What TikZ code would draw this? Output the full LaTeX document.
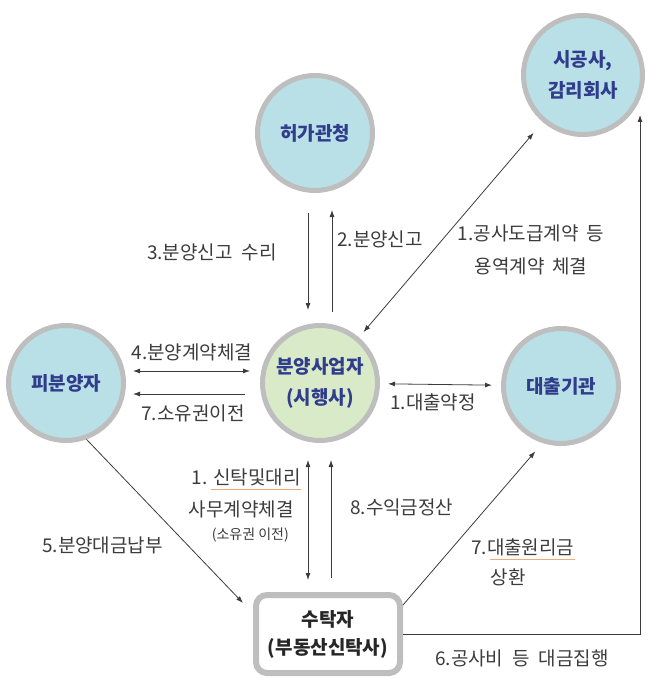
\documentclass[tikz,border=0pt]{standalone}
\usepackage{fontspec}
\setmainfont{Noto Sans CJK KR}
\usepackage{tikz}
\usetikzlibrary{arrows.meta,positioning}

\definecolor{partyblue}{RGB}{185,224,230}
\definecolor{partygreen}{RGB}{216,234,200}
\definecolor{rimgray}{RGB}{190,190,190}
\definecolor{navytext}{RGB}{48,60,140}
\definecolor{labelgray}{RGB}{60,60,60}
\definecolor{spellmark}{RGB}{240,170,120}

\begin{document}
\begin{tikzpicture}[x=1pt,y=-1pt,>={Latex[length=7pt,width=5pt]},
  party/.style={circle,draw=rimgray,line width=5pt,fill=partyblue,minimum size=115pt,
    inner sep=0pt,align=center,text=navytext,font=\fontsize{19}{31}\selectfont\bfseries},
  trustee/.style={draw=rimgray,line width=6pt,fill=white,rounded corners=11pt,
    minimum width=144pt,minimum height=78pt,align=center,text=black!85,
    font=\fontsize{19}{28}\selectfont\bfseries},
  flow/.style={labelgray,line width=0.8pt},
  lbl/.style={text=labelgray,inner sep=0pt,align=center,
    font=\fontsize{19}{33}\selectfont},
  small/.style={text=labelgray,inner sep=0pt,font=\fontsize{14}{16}\selectfont}]
  \useasboundingbox (0,0) rectangle (668,682);

  % Parties
  \node[party] (heoga) at (315,133) {허가관청};
  \node[party,minimum size=119pt] (sigong) at (583,75) {시공사,\\감리회사};
  \node[party] (pibun) at (66,383) {피분양자};
  \node[party,fill=partygreen] (bunyang) at (320,383) {분양사업자\\(시행사)};
  \node[party] (daechul) at (561,386) {대출기관};
  \node[trustee] (sutak) at (328,634) {수탁자\\(부동산신탁사)};

  % Permit office
  \draw[flow,->,shorten <=20pt,shorten >=13pt] ([xshift=-7pt]heoga.south) -- ([xshift=-7pt]heoga.south |- bunyang.north);
  \draw[flow,->,shorten <=11pt,shorten >=17pt] ([xshift=17pt]heoga.south |- bunyang.north) -- ([xshift=17pt]heoga.south);
  \node[lbl,anchor=east] (accept) at (277,252) {3.분양신고\hspace{9pt}수리};
  \node[lbl,anchor=west] (report) at (337,239) {2.분양신고};

  % Contractor
  \draw[flow,<->,shorten <=7pt,shorten >=14pt] (bunyang) -- (sigong);
  \node[lbl] (contract) at (531,250) {1.공사도급계약\hspace{8pt}등\\용역계약\hspace{8pt}체결};

  % Buyers
  \draw[flow,<->,shorten <=7pt,shorten >=10pt] ([yshift=12pt]pibun.east) -- ([yshift=12pt]pibun.east -| bunyang.west);
  \draw[flow,->,shorten <=15pt,shorten >=7pt] ([yshift=-11pt]pibun.east -| bunyang.west) -- ([yshift=-11pt]pibun.east);
  \node[lbl] (sale) at (192,352) {4.분양계약체결};
  \node[lbl] (owner) at (193,413) {7.소유권이전};

  % Lender
  \draw[flow,<->,shorten <=8pt,shorten >=9pt] (bunyang) -- (daechul);
  \node[lbl,anchor=west] (loan) at (390,402) {1.대출약정};

  % Payment to trustee
  \draw[flow,->] (pibun.-70) -- ([shift={(-10pt,-11pt)}]sutak.north west);
  \node[lbl,anchor=west] (pay) at (42,545) {5.분양대금납부};

  % Trust contract and settlement
  \draw[flow,<->,shorten <=17pt,shorten >=12pt] ([xshift=-12pt]bunyang.south) -- ([xshift=-12pt]bunyang.south |- sutak.north);
  \draw[flow,->,shorten <=14pt,shorten >=17pt] ([xshift=11pt]bunyang.south |- sutak.north) -- ([xshift=11pt]bunyang.south);
  \node[lbl,anchor=east] (trust) at (301,477) {1. 신탁및대리};
  \node[lbl,anchor=east] (agency) at (294,509) {사무계약체결};
  \node[small,anchor=east] (transfer) at (289,535) {(소유권 이전)};
  \node[lbl,anchor=west] (settle) at (350,507) {8.수익금정산};

  % Loan repayment
  \draw[flow,->,shorten >=11pt] ([yshift=-13pt]sutak.north east) -- (daechul.-108);
  \node[lbl,anchor=west] (repay) at (471,547) {7.대출원리금};
  \node[lbl] (repay2) at (508,577) {상환};

  % Construction payments
  \coordinate (sixtop) at (640,115);
  \draw[flow,->] (sutak.east) -| (sixtop);
  \node[lbl,anchor=west] (build) at (435,658) {6.공사비\hspace{9pt}등\hspace{9pt}대금집행};

  % spell-check marks
  \draw[spellmark,line width=0.6pt] ([xshift=19pt,yshift=-3pt]trust.south west) -- ([yshift=-3pt]trust.south east);
  \draw[spellmark,line width=0.6pt] ([xshift=19pt,yshift=-3pt]repay.south west) -- ([yshift=-3pt]repay.south east);
\end{tikzpicture}
\end{document}
